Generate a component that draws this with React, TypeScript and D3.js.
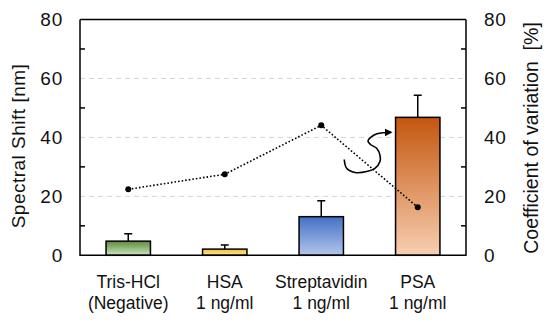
import React, { useEffect, useRef } from 'react';
import * as d3 from 'd3';

// categories (two-line labels)
const categories = ['Tris-HCl', 'HSA', 'Streptavidin', 'PSA'];
const subLabels = ['(Negative)', '1 ng/ml', '1 ng/ml', '1 ng/ml'];

// spectral shift [nm] (bars) and upper error
const shiftValues = [4.8, 2.1, 13.1, 46.8];
const shiftErrors = [2.5, 1.4, 5.4, 7.5];

// coefficient of variation [%] (dotted line)
const cvValues = [22.4, 27.5, 44.1, 16.3];

const yTicks = [0, 20, 40, 60, 80];
const minorTicks = [10, 30, 50, 70];

// bar gradient colours [top, bottom]
const barColors: [string, string][] = [
    ['#5b8c3c', '#cfe3bf'],
    ['#f2c230', '#fbe79a'],
    ['#4470c4', '#b1c6ec'],
    ['#c4560f', '#f8cfb1'],
];

// curved annotation arrow: [px offset from PSA bar left, value on right axis]
const arrowPts: [number, number][] = [
    [-51.3, 32.5], [-48.9, 29.5], [-40.6, 28.1], [-28.9, 28.4], [-20.6, 29.5],
    [-15.6, 31.8], [-15.6, 34.0], [-18.9, 36.3], [-25.1, 37.6], [-27.6, 38.8],
    [-24.6, 40.1], [-18.6, 41.2], [-11.6, 41.6], [-4.6, 41.7],
];

const W = 550;
const H = 322;

export default function App() {
    const svgRef = useRef<SVGSVGElement>(null);

    useEffect(() => {
        if (!svgRef.current) return;
        const svg = d3.select(svgRef.current);
        svg.selectAll('*').remove();

        const left = 80;
        const right = 466;
        const top = 19.5;
        const bottom = 255.3;
        const font = '"Liberation Sans", Arial, sans-serif';

        const x = d3.scaleBand<string>()
            .domain(categories)
            .range([left, right])
            .paddingInner(0.54)
            .paddingOuter(0.27);

        const y = d3.scaleLinear().domain([0, 80]).range([bottom, top]);
        const y2 = d3.scaleLinear().domain([0, 80]).range([bottom, top]);

        const defs = svg.append('defs');
        barColors.forEach((c, i) => {
            const g = defs.append('linearGradient')
                .attr('id', `grad${i}`)
                .attr('x1', 0).attr('y1', 0).attr('x2', 0).attr('y2', 1);
            g.append('stop').attr('offset', '0%').attr('stop-color', c[0]);
            g.append('stop').attr('offset', '100%').attr('stop-color', c[1]);
        });
        defs.append('marker')
            .attr('id', 'arrowhead')
            .attr('viewBox', '0 0 10 10')
            .attr('refX', 8).attr('refY', 5)
            .attr('markerWidth', 5).attr('markerHeight', 5)
            .attr('markerUnits', 'strokeWidth')
            .attr('orient', 'auto')
            .append('path')
            .attr('d', 'M0,0 L10,5 L0,10 z')
            .attr('fill', '#000');

        // dashed gridlines
        svg.append('g')
            .selectAll('line')
            .data([20, 40, 60])
            .join('line')
            .attr('x1', left).attr('x2', right)
            .attr('y1', d => y(d)).attr('y2', d => y(d))
            .attr('stroke', '#d4d4d4')
            .attr('stroke-width', 1)
            .attr('stroke-dasharray', '5,4');

        // bars
        categories.forEach((cat, i) => {
            const bx = x(cat)!;
            const bw = x.bandwidth();
            const cx = bx + bw / 2;
            const topY = y(shiftValues[i]);
            const errY = y(shiftValues[i] + shiftErrors[i]);

            svg.append('line')
                .attr('x1', cx).attr('x2', cx)
                .attr('y1', topY).attr('y2', errY)
                .attr('stroke', '#000').attr('stroke-width', 1.5);
            svg.append('line')
                .attr('x1', cx - 4).attr('x2', cx + 4)
                .attr('y1', errY).attr('y2', errY)
                .attr('stroke', '#000').attr('stroke-width', 1.5);

            svg.append('rect')
                .attr('x', bx)
                .attr('y', topY)
                .attr('width', bw)
                .attr('height', bottom - topY)
                .attr('fill', `url(#grad${i})`)
                .attr('stroke', '#000')
                .attr('stroke-width', 1.5);
        });

        // CV dotted line
        const line = d3.line<number>()
            .x((_, i) => x(categories[i])! + x.bandwidth() / 2)
            .y(d => y2(d));
        svg.append('path')
            .datum(cvValues)
            .attr('d', line)
            .attr('fill', 'none')
            .attr('stroke', '#000')
            .attr('stroke-width', 1.6)
            .attr('stroke-dasharray', '1.6,2');
        svg.append('g')
            .selectAll('circle')
            .data(cvValues)
            .join('circle')
            .attr('cx', (_, i) => x(categories[i])! + x.bandwidth() / 2)
            .attr('cy', d => y2(d))
            .attr('r', 3)
            .attr('fill', '#000');

        // annotation arrow
        const psaLeft = x('PSA')!;
        const arrowLine = d3.line<[number, number]>()
            .x(d => psaLeft + d[0])
            .y(d => y2(d[1]))
            .curve(d3.curveCatmullRom.alpha(0.5));
        svg.append('path')
            .datum(arrowPts)
            .attr('d', arrowLine)
            .attr('fill', 'none')
            .attr('stroke', '#000')
            .attr('stroke-width', 1.6)
            .attr('marker-end', 'url(#arrowhead)');

        // frame: axes + top border
        svg.append('path')
            .attr('d', `M${left},${top} L${right},${top} M${left},${top} L${left},${bottom} L${right},${bottom} L${right},${top}`)
            .attr('fill', 'none')
            .attr('stroke', '#000')
            .attr('stroke-width', 1.5);

        // minor ticks (inward)
        svg.append('g')
            .selectAll('line')
            .data(minorTicks)
            .join('line')
            .attr('x1', left).attr('x2', left + 5)
            .attr('y1', d => y(d)).attr('y2', d => y(d))
            .attr('stroke', '#000').attr('stroke-width', 1.5);
        svg.append('g')
            .selectAll('line')
            .data(minorTicks)
            .join('line')
            .attr('x1', right - 5).attr('x2', right)
            .attr('y1', d => y2(d)).attr('y2', d => y2(d))
            .attr('stroke', '#000').attr('stroke-width', 1.5);

        // tick labels
        svg.append('g')
            .selectAll('text')
            .data(yTicks)
            .join('text')
            .attr('x', left - 17)
            .attr('y', d => y(d))
            .attr('dy', '0.36em')
            .attr('text-anchor', 'end')
            .style('font-family', font)
            .style('font-size', '19px')
            .style('letter-spacing', '0.8px')
            .attr('fill', '#111')
            .text(d => d);
        svg.append('g')
            .selectAll('text')
            .data(yTicks)
            .join('text')
            .attr('x', right + 18)
            .attr('y', d => y2(d))
            .attr('dy', '0.36em')
            .attr('text-anchor', 'start')
            .style('font-family', font)
            .style('font-size', '19px')
            .style('letter-spacing', '0.8px')
            .attr('fill', '#111')
            .text(d => d);

        // category labels
        categories.forEach((cat, i) => {
            const cx = x(cat)! + x.bandwidth() / 2;
            const t = svg.append('text')
                .attr('text-anchor', 'middle')
                .style('font-family', font)
                .style('font-size', '17.5px')
                .attr('fill', '#111');
            t.append('tspan').attr('x', cx).attr('y', 288).text(cat);
            t.append('tspan').attr('x', cx).attr('y', 308.5).text(subLabels[i]);
        });

        // axis titles
        svg.append('text')
            .attr('transform', `translate(25,146) rotate(-90)`)
            .attr('text-anchor', 'middle')
            .style('font-family', font)
            .style('font-size', '19px')
            .style('letter-spacing', '0.5px')
            .attr('fill', '#111')
            .text('Spectral Shift [nm]');
        svg.append('text')
            .attr('transform', `translate(524,138) rotate(-90)`)
            .attr('text-anchor', 'middle')
            .attr('dy', '0.7em')
            .style('font-family', font)
            .style('font-size', '19.5px')
            .style('white-space', 'pre')
            .attr('fill', '#111')
            .text('Coefficient of variation  [%]');
    }, []);

    return (
        <svg
            ref={svgRef}
            width={W}
            height={H}
            style={{ position: 'absolute', left: 0, top: 0, background: '#fff' }}
        />
    );
}
